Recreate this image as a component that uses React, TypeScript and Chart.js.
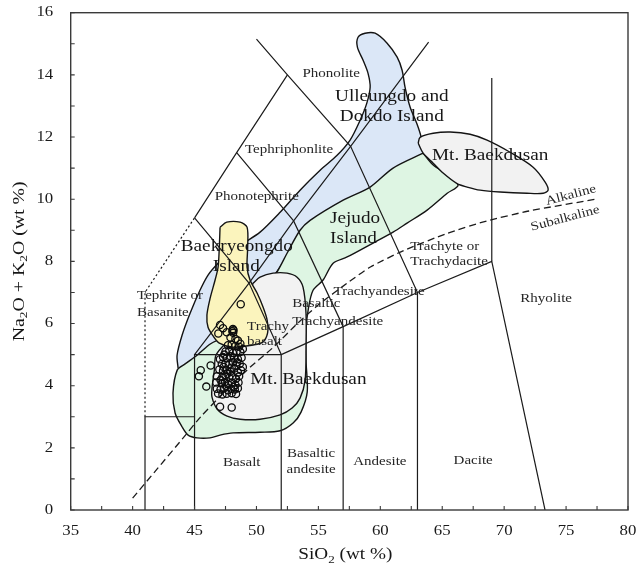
import { useEffect, useRef } from "react";
import { Chart, registerables } from "chart.js";

Chart.register(...registerables);

type P = [number, number];

const W = 640;
const H = 568;

// Axis ranges and tick labels
const xTickLabels = [35, 40, 45, 50, 55, 60, 65, 70, 75, 80];
const yTickLabels = [0, 2, 4, 6, 8, 10, 12, 14, 16];
const xMinorStep = 2.5;
const yMinorStep = 1;

// Field outlines (SiO2 wt%, Na2O+K2O wt%)
const ulleungdoDokdo: P[] = [
  [43.67, 4.57], [43.59, 4.98], [44.0, 5.63], [44.64, 6.33], [45.44, 7.07], [46.09, 7.56],
  [46.9, 7.94], [48.03, 8.36], [49.08, 8.62], [50.29, 8.94], [51.91, 9.58], [53.52, 10.29],
  [55.14, 10.93], [56.51, 11.41], [57.56, 11.9], [58.37, 12.54], [58.91, 13.09], [59.18, 13.6],
  [59.01, 14.05], [58.61, 14.47], [58.15, 14.89], [58.2, 15.21], [58.77, 15.34], [59.58, 15.34],
  [60.55, 15.02], [61.36, 14.57], [61.76, 14.15], [62.0, 13.6], [62.41, 12.96], [62.97, 12.41],
  [63.3, 11.99], [63.62, 11.25], [59.18, 10.13], [53.52, 8.68], [51.1, 7.4], [48.68, 6.75],
  [46.66, 6.11], [46.8, 5.3], [45.6, 4.6], [44.2, 4.3], [43.67, 4.57],
];

const jejudo: P[] = [
  [63.46, 11.48], [61.03, 11.0], [59.18, 10.39], [57.0, 9.97], [54.33, 9.32], [53.52, 9.0],
  [52.47, 8.26], [51.75, 7.72], [50.0, 6.6], [47.5, 5.6], [46.3, 5.35], [45.2, 4.98],
  [44.24, 4.7], [43.6, 4.5], [43.26, 3.76], [43.43, 3.12], [44.0, 2.67], [44.48, 2.41],
  [45.2, 2.32], [46.25, 2.32], [47.06, 2.41], [48.11, 2.48], [50.29, 2.5], [51.91, 2.55],
  [52.96, 2.8], [53.6, 3.15], [54.1, 3.8], [54.0, 4.8], [54.0, 5.8], [54.2, 6.5],
  [54.57, 7.07], [55.38, 7.4], [56.19, 7.94], [57.32, 8.14], [59.42, 8.59], [61.03, 8.94],
  [62.16, 9.23], [63.78, 9.65], [65.4, 10.19], [66.28, 10.45], [65.4, 10.8], [64.27, 11.1],
  [63.46, 11.48],
];

const baekdusanLower: P[] = [
  [49.73, 7.3], [50.29, 7.49], [51.34, 7.62], [52.47, 7.62], [53.28, 7.49], [53.76, 7.17],
  [54.0, 6.33], [54.0, 5.24], [53.93, 4.18], [53.52, 3.6], [52.88, 3.28], [51.91, 3.06],
  [50.29, 2.92], [48.68, 2.92], [47.63, 3.02], [46.82, 3.25], [46.41, 3.63], [46.41, 3.92],
  [46.6, 4.5], [46.75, 5.0], [48.0, 5.6], [49.0, 6.5], [49.73, 7.3],
];

const baekryeongdo: P[] = [
  [47.06, 9.1], [47.6, 9.26], [48.68, 9.26], [49.24, 9.1], [49.29, 8.46], [49.24, 7.81],
  [49.48, 7.4], [50.05, 6.98], [50.53, 6.53], [50.86, 6.11], [50.9, 5.7], [50.5, 5.4],
  [49.73, 5.31], [48.11, 5.24], [47.0, 5.37], [46.5, 5.6], [46.09, 5.88], [46.0, 6.27],
  [46.25, 6.8], [46.66, 7.4], [46.9, 7.81], [47.0, 8.46], [47.06, 9.1],
];

const baekdusanUpper: P[] = [
  [63.06, 11.8], [63.21, 11.99], [64.27, 12.12], [65.64, 12.16], [67.25, 12.09], [68.62, 11.9],
  [70.48, 11.51], [72.34, 11.03], [73.31, 10.55], [73.55, 10.29], [73.15, 10.19], [71.85, 10.19],
  [69.67, 10.23], [68.06, 10.29], [67.01, 10.39], [66.2, 10.5], [65.07, 10.84], [64.27, 11.16],
  [63.46, 11.48], [63.06, 11.8],
];

// TAS classification boundaries
const picrobasaltBox: P[] = [[41, 0], [41, 3], [45, 3]];
const basaltBox: P[] = [[45, 0], [45, 5], [52, 5], [52, 0]];
const subalkalineTop: P[] = [[52, 5], [57, 5.9], [63, 7], [69, 8], [73.3, 0]];
const andesiteLeft: P[] = [[57, 0], [57, 5.9]];
const daciteLeft: P[] = [[63, 0], [63, 7]];
const rhyoliteLeft: P[] = [[69, 8], [69, 13.9]];
const trachyLine: P[] = [[45, 5], [49.4, 7.3], [53, 9.3], [57.6, 11.7], [63.9, 15.05]];
const phonotephriteTop: P[] = [[45, 9.4], [48.4, 11.5], [52.5, 14]];
const phonoliteBase: P[] = [[50, 15.15], [52.5, 14], [57.6, 11.7], [63, 7]];
const tephriteTop: P[] = [[45, 9.4], [49.4, 7.3], [52, 5]];
const tephriphonoliteBase: P[] = [[48.4, 11.5], [53, 9.3], [57, 5.9]];
const tephriteDashed: P[] = [[41, 3], [41, 7], [45, 9.4]];

// Alkaline / subalkaline divide
const alkalineDivide: P[] = [
  [40.0, 0.38], [42.0, 1.33], [44.0, 2.28], [45.5, 3.0], [47.3, 3.75], [49.5, 4.6],
  [51.4, 5.25], [53.3, 6.0], [55.0, 6.6], [57.5, 7.35], [59.2, 7.82], [61.9, 8.35],
  [65.4, 8.9], [68.6, 9.3], [72.0, 9.62], [77.4, 10.0],
];

// Analysed samples
const samples: P[] = [
  [48.73, 6.62], [47.06, 5.95], [46.92, 5.68], [47.6, 5.72], [47.3, 5.85], [45.5, 4.5],
  [45.35, 4.3], [45.95, 3.97], [46.3, 4.65], [47.06, 3.32], [48.0, 3.3],
  [48.1, 5.82], [48.15, 5.78], [48.05, 5.75], [48.12, 5.7],
  [47.9, 5.55], [48.3, 5.5], [48.5, 5.45],
  [47.7, 5.3], [48.0, 5.32], [48.3, 5.28], [48.6, 5.25], [48.9, 5.18],
  [47.5, 5.1], [47.8, 5.12], [48.1, 5.05], [48.4, 5.1], [48.7, 5.08],
  [47.3, 4.92], [47.6, 4.88], [47.9, 4.95], [48.2, 4.9], [48.5, 4.85], [48.8, 4.9],
  [47.2, 4.7], [47.5, 4.72], [47.8, 4.68], [48.1, 4.75], [48.35, 4.65], [48.65, 4.7], [48.9, 4.6],
  [47.0, 4.52], [47.3, 4.48], [47.6, 4.5], [47.9, 4.45], [48.2, 4.55], [48.5, 4.42], [48.75, 4.5],
  [46.8, 4.3], [47.25, 4.28], [47.5, 4.32], [47.8, 4.25], [48.05, 4.3], [48.35, 4.22], [48.6, 4.3],
  [46.75, 4.1], [47.2, 4.08], [47.45, 4.12], [47.7, 4.05], [48.0, 4.1], [48.3, 4.02], [48.55, 4.1],
  [46.8, 3.9], [47.1, 3.88], [47.4, 3.92], [47.7, 3.85], [47.95, 3.9], [48.25, 3.88], [48.5, 3.92],
  [46.9, 3.75], [47.25, 3.72], [47.6, 3.74], [48.0, 3.76], [48.35, 3.73],
  [47.4, 5.0], [48.0, 4.58], [47.65, 4.38], [48.45, 4.75], [47.1, 4.18], [47.55, 3.98],
  [48.15, 3.96], [47.35, 4.6], [48.7, 5.35], [47.05, 4.85],
];

// Text annotations: [text, SiO2, total alkali, size, align]
type Label = [string, number, number, number, CanvasTextAlign];
const fieldLabels: Label[] = [
  ["Phonolite", 56.03, 14.05, 12.5, "center"],
  ["Tephriphonlite", 52.63, 11.58, 12.5, "center"],
  ["Phonotephrite", 50.02, 10.07, 12.5, "center"],
  ["Tephrite or", 40.36, 6.88, 12.5, "left"],
  ["Basanite", 40.36, 6.34, 12.5, "left"],
  ["Trachy", 49.24, 5.89, 12.5, "left"],
  ["basalt", 49.24, 5.41, 12.5, "left"],
  ["Basaltic", 52.88, 6.65, 12.5, "left"],
  ["Trachyandesite", 52.88, 6.06, 12.5, "left"],
  ["Trachyandesite", 59.9, 7.03, 12.5, "center"],
  ["Trachyte or", 62.41, 8.47, 12.5, "left"],
  ["Trachydacite", 62.41, 7.98, 12.5, "left"],
  ["Basalt", 48.81, 1.52, 12.5, "center"],
  ["Basaltic", 54.41, 1.82, 12.5, "center"],
  ["andesite", 54.41, 1.29, 12.5, "center"],
  ["Andesite", 59.96, 1.55, 12.5, "center"],
  ["Dacite", 67.5, 1.58, 12.5, "center"],
  ["Rhyolite", 73.39, 6.81, 12.5, "center"],
  ["Ulleungdo and", 60.93, 13.31, 16, "center"],
  ["Dokdo Island", 60.93, 12.65, 16, "center"],
  ["Mt. Baekdusan", 68.87, 11.39, 16, "center"],
  ["Jejudo", 55.94, 9.38, 16, "left"],
  ["Island", 55.94, 8.74, 16, "left"],
  ["Baekryeongdo", 48.41, 8.47, 16, "center"],
  ["Island", 48.37, 7.82, 16, "center"],
  ["Mt. Baekdusan", 54.19, 4.18, 16, "center"],
];
const seriesLabels: Label[] = [
  ["Alkaline", 75.39, 10.13, 12.5, "center"],
  ["Subalkaline", 74.93, 9.38, 12.5, "center"],
];

const FONT = '"Liberation Serif", "Times New Roman", serif';
const SX = 1.2;

type Run = [string, boolean];

function drawRuns(
  ctx: CanvasRenderingContext2D,
  runs: Run[],
  x: number,
  y: number,
  size: number,
  align: CanvasTextAlign,
  color: string,
  rotate = 0
) {
  ctx.save();
  ctx.translate(x, y);
  if (rotate) ctx.rotate(rotate);
  ctx.scale(SX, 1);
  const widths = runs.map(([t, sub]) => {
    ctx.font = `${sub ? size * 0.68 : size}px ${FONT}`;
    return ctx.measureText(t).width;
  });
  const total = widths.reduce((a, b) => a + b, 0);
  let cx = align === "center" ? -total / 2 : align === "right" ? -total : 0;
  ctx.textAlign = "left";
  ctx.textBaseline = "middle";
  ctx.fillStyle = color;
  runs.forEach(([t, sub], i) => {
    ctx.font = `${sub ? size * 0.68 : size}px ${FONT}`;
    ctx.fillText(t, cx, sub ? size * 0.3 : 0);
    cx += widths[i];
  });
  ctx.restore();
}

const pts = (arr: P[]) => arr.map(([x, y]) => ({ x, y }));

const field = (arr: P[], color: string, order: number) => ({
  type: "line" as const,
  data: pts(arr),
  showLine: true,
  fill: "shape" as const,
  backgroundColor: color,
  borderColor: "#141414",
  borderWidth: 1.4,
  pointRadius: 0,
  tension: 0.3,
  order,
});

const boundary = (arr: P[], dash: number[] = [], width = 1.2) => ({
  type: "line" as const,
  data: pts(arr),
  showLine: true,
  fill: false,
  borderColor: "#1c1c1c",
  borderWidth: width,
  borderDash: dash,
  pointRadius: 0,
  tension: 0,
  order: 2,
});

const framePlugin = {
  id: "tasFrame",
  afterDatasetsDraw(chart: any) {
    const { ctx, chartArea: a, scales } = chart;
    const xs = scales.x;
    const ys = scales.y;
    ctx.save();
    ctx.strokeStyle = "#3a3a3a";
    ctx.lineWidth = 1.4;
    ctx.strokeRect(a.left, a.top, a.right - a.left, a.bottom - a.top);
    ctx.lineWidth = 1.1;
    ctx.beginPath();
    for (let v = xs.min; v <= xs.max + 1e-9; v += xMinorStep) {
      const px = xs.getPixelForValue(v);
      ctx.moveTo(px, a.bottom);
      ctx.lineTo(px, a.bottom - 4);
    }
    for (let v = ys.min; v <= ys.max + 1e-9; v += yMinorStep) {
      const py = ys.getPixelForValue(v);
      ctx.moveTo(a.left, py);
      ctx.lineTo(a.left + 4, py);
    }
    ctx.stroke();
    ctx.restore();
  },
  afterDraw(chart: any) {
    const { ctx, chartArea: a, scales } = chart;
    const xs = scales.x;
    const ys = scales.y;
    xTickLabels.forEach((v) =>
      drawRuns(ctx, [[String(v), false]], xs.getPixelForValue(v), a.bottom + 21, 14, "center", "#1a1a1a")
    );
    yTickLabels.forEach((v) =>
      drawRuns(ctx, [[String(v), false]], a.left - 17.5, ys.getPixelForValue(v), 14, "right", "#1a1a1a")
    );
    fieldLabels.forEach(([t, x, y, s, al]) =>
      drawRuns(ctx, [[t, false]], xs.getPixelForValue(x), ys.getPixelForValue(y), s, al, s > 14 ? "#161616" : "#262626")
    );
    seriesLabels.forEach(([t, x, y, s, al]) =>
      drawRuns(ctx, [[t, false]], xs.getPixelForValue(x), ys.getPixelForValue(y), s, al, "#262626", -0.26)
    );
    drawRuns(
      ctx,
      [["SiO", false], ["2", true], [" (wt %)", false]],
      (a.left + a.right) / 2 - 4,
      555,
      16,
      "center",
      "#161616"
    );
    drawRuns(
      ctx,
      [["Na", false], ["2", true], ["O + K", false], ["2", true], ["O (wt %)", false]],
      19.5,
      (a.top + a.bottom) / 2,
      16.5,
      "center",
      "#161616",
      -Math.PI / 2
    );
  },
};

export default function App() {
  const ref = useRef<HTMLCanvasElement>(null);
  useEffect(() => {
    const canvas = ref.current;
    if (!canvas) return;
    const chart = new Chart(canvas, {
      type: "scatter",
      data: {
        datasets: [
          {
            type: "scatter",
            data: pts(samples),
            pointRadius: 3.6,
            pointBorderWidth: 1.3,
            pointBorderColor: "#0d0d0d",
            pointBackgroundColor: "rgba(255,255,255,0)",
            showLine: false,
            order: 0,
          },
          { ...boundary(alkalineDivide, [7, 4], 1.3), tension: 0.2, order: 1 },
          boundary(picrobasaltBox),
          boundary(basaltBox),
          boundary(subalkalineTop),
          boundary(andesiteLeft),
          boundary(daciteLeft),
          boundary(rhyoliteLeft),
          boundary(trachyLine),
          boundary(phonotephriteTop),
          boundary(phonoliteBase),
          boundary(tephriteTop),
          boundary(tephriphonoliteBase),
          boundary(tephriteDashed, [2, 2.5]),
          field(baekdusanUpper, "#f2f2f2", 3),
          field(baekryeongdo, "#fbf4bd", 4),
          field(baekdusanLower, "#f2f2f2", 5),
          field(jejudo, "#def5e3", 6),
          field(ulleungdoDokdo, "#dbe7f7", 7),
        ] as any,
      },
      options: {
        responsive: false,
        animation: false,
        devicePixelRatio: 1,
        events: [],
        layout: { padding: { left: 70.7, top: 12.7, right: 12, bottom: 58 } },
        scales: {
          x: { type: "linear", min: 35, max: 80, display: false },
          y: { type: "linear", min: 0, max: 16, display: false },
        },
        plugins: { legend: { display: false }, tooltip: { enabled: false } },
      },
      plugins: [framePlugin],
    });
    return () => chart.destroy();
  }, []);
  return (
    <div style={{ position: "fixed", left: 0, top: 0, width: W, height: H, background: "#fff" }}>
      <canvas ref={ref} width={W} height={H} style={{ display: "block", width: W, height: H }} />
    </div>
  );
}
